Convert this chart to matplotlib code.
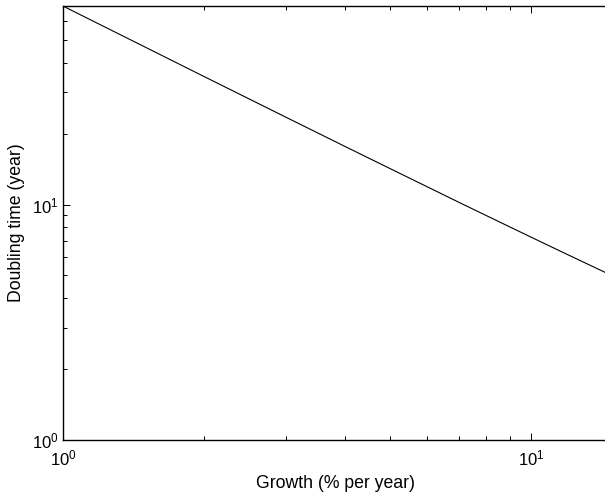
import matplotlib
matplotlib.use("Agg")
import matplotlib.pyplot as plt

# growth rate (% per year) and the doubling time (years)
growth = [1, 2, 3, 4, 5, 6, 7, 8, 9, 10, 11, 12, 13, 14, 15]
doubling = [69.66, 35.00, 23.45, 17.67, 14.21, 11.90, 10.24, 9.006, 8.043,
            7.273, 6.642, 6.116, 5.672, 5.290, 4.959]

plt.rcParams["font.family"] = ["Liberation Sans", "DejaVu Sans"]
plt.rcParams["mathtext.fontset"] = "custom"
plt.rcParams["mathtext.rm"] = "Liberation Sans"
plt.rcParams["mathtext.it"] = "Liberation Sans"
plt.rcParams["font.size"] = 12

fig = plt.figure(figsize=(6.05, 4.93), dpi=100)
ax = fig.add_axes([63 / 605, 53 / 493, 545 / 605, 434 / 493])

ax.plot(growth, doubling, color="black", linewidth=0.8)
ax.set_xscale("log")
ax.set_yscale("log")
ax.set_xlim(1, 10 ** (545 / 468))
ax.set_ylim(1, 69.7)

ax.set_xlabel("Growth (% per year)", fontsize=12.7, labelpad=5)
ax.set_ylabel("Doubling time (year)", fontsize=12.7, labelpad=5)

ax.tick_params(which="both", direction="in", top=True, right=False,
               width=0.7, colors="black", labelsize=12)
ax.tick_params(which="major", length=5)
ax.tick_params(which="minor", length=3)
ax.tick_params(axis="x", which="major", pad=6)
ax.tick_params(axis="y", which="major", pad=3)
for s in ax.spines.values():
    s.set_linewidth(1.0)

fig.savefig("out.png", dpi=100)
